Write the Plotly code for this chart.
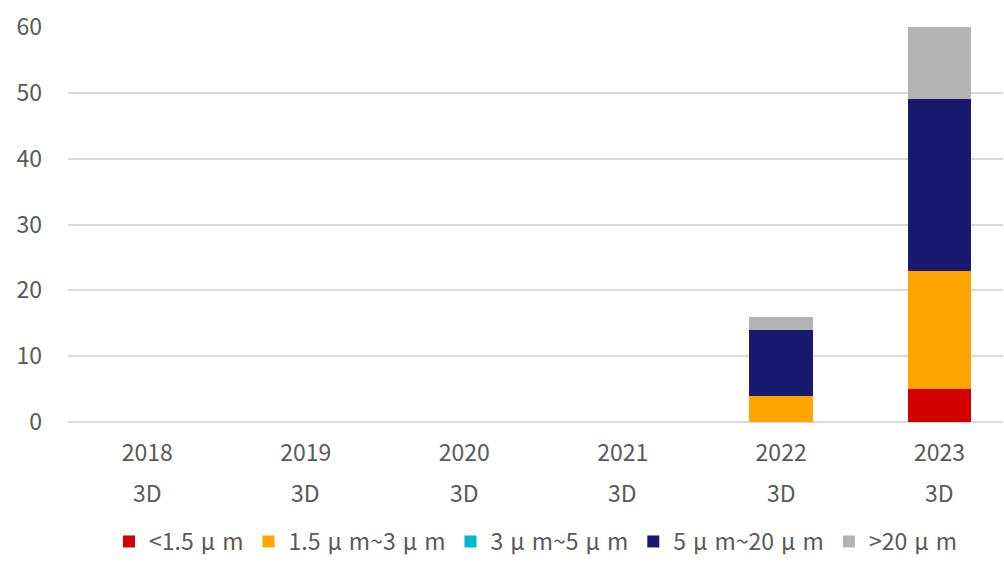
import re
import plotly.graph_objects as go

years = ["2018", "2019", "2020", "2021", "2022", "2023"]
sublabels = ["3D", "3D", "3D", "3D", "3D", "3D"]
series_names = ["<1.5μm", "1.5μm~3μm", "3μm~5μm", "5μm~20μm", ">20μm"]
s_lt15 = [0, 0, 0, 0, 0, 5]
s_15_3 = [0, 0, 0, 0, 4, 18]
s_3_5 = [0, 0, 0, 0, 0, 0]
s_5_20 = [0, 0, 0, 0, 10, 26]
s_gt20 = [0, 0, 0, 0, 2, 11]
colors = ["#d20000", "#ffa500", "#00b8cc", "#191970", "#b3b3b3"]

FONT = "Noto Sans CJK JP"
GRAY = "#595959"
FS = 23


def spaced(name):
    # widen the gap around the μ glyph (full-width look) without changing the text
    return re.sub(r"(.)μ", r'<span style="letter-spacing:7px">\1μ</span>', name)


fig = go.Figure()
for name, vals, c in zip(series_names, [s_lt15, s_15_3, s_3_5, s_5_20, s_gt20], colors):
    fig.add_trace(go.Bar(x=years, y=vals, name=spaced(name),
                         marker=dict(color=c, line=dict(width=0)), width=0.4))

for i, lab in enumerate(sublabels):
    fig.add_annotation(x=i, y=0, xref="x", yref="paper", text=lab, showarrow=False,
                       yanchor="middle", yshift=-70, font=dict(family=FONT, size=FS, color=GRAY))

fig.update_layout(
    barmode="stack",
    width=1004, height=563,
    margin=dict(l=68, r=1, t=27, b=141, autoexpand=False),
    paper_bgcolor="white", plot_bgcolor="white",
    font=dict(family=FONT, size=FS, color=GRAY),
    showlegend=True,
    legend=dict(orientation="h", x=0.5, xanchor="center", y=-0.357, yanchor="bottom",
                font=dict(family=FONT, size=FS, color=GRAY), traceorder="normal",
                itemwidth=30),
)
fig.update_xaxes(type="category", range=[-0.5, 5.4], showgrid=False, showline=False, ticks="",
                 tickfont=dict(size=FS, color=GRAY), ticklabelstandoff=15)
fig.update_yaxes(range=[0, 60], dtick=10, showgrid=True, gridcolor="#d9d9d9", gridwidth=1.5,
                 zeroline=True, zerolinecolor="#d9d9d9", zerolinewidth=1.5,
                 ticks="", tickfont=dict(size=FS, color=GRAY), ticklabelstandoff=25)

fig.write_html("out.html")
